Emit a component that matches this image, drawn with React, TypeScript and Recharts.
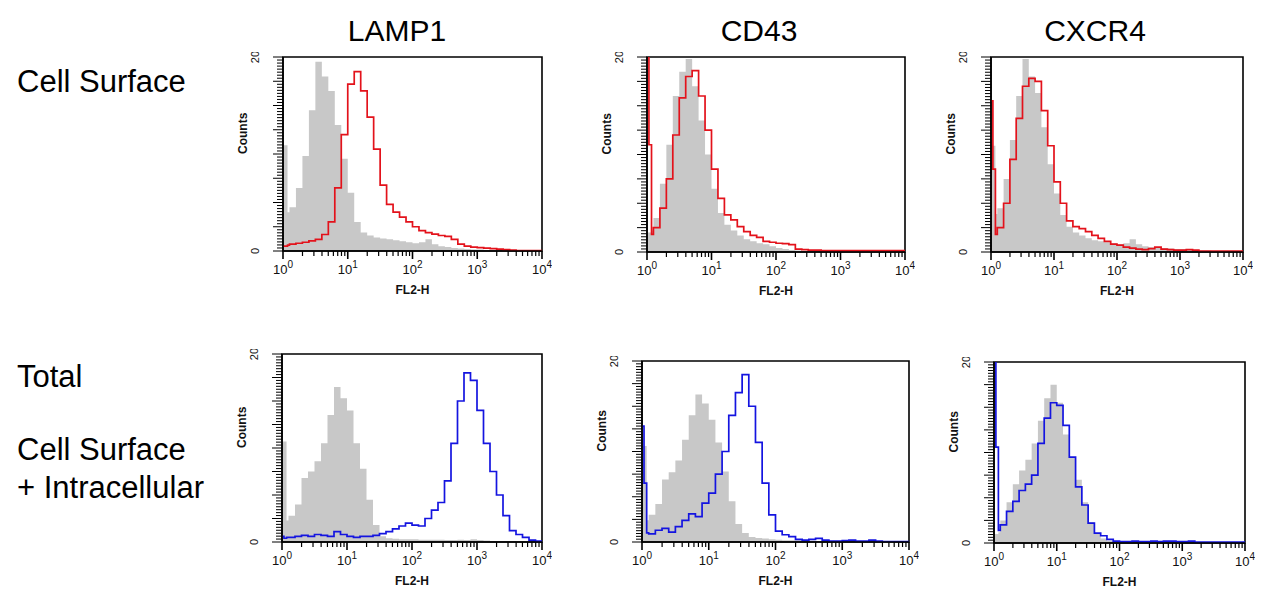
import React from 'react';
import {
  ComposedChart,
  Area,
  Line,
  XAxis,
  YAxis,
  ReferenceArea,
} from 'recharts';

// bin start positions in log10(FL2-H) units (first bins are narrow, channel-0 spike)
const binX = [
  0, 0.03, 0.07,
  0.1, 0.2, 0.3, 0.4, 0.5, 0.6, 0.7, 0.8, 0.9, 1.0,
  1.1, 1.2, 1.3, 1.4, 1.5, 1.6, 1.7, 1.8, 1.9, 2.0,
  2.1, 2.2, 2.3, 2.4, 2.5, 2.6, 2.7, 2.8, 2.9, 3.0,
  3.1, 3.2, 3.3, 3.4, 3.5, 3.6, 3.7, 3.8, 3.9, 4.0,
];

const columns = ['LAMP1', 'CD43', 'CXCR4'];
const decadeLabels = ['0', '1', '2', '3', '4'];
const yTickLabels = ['0', '20'];

// top row: cell surface (isotype grey vs red stain)
const lamp1SurfaceIso = [
  10.9, 10.9, 4.0,
  4.5, 6.5, 9.8, 14.5, 19.5, 18, 16.5, 13, 9.5, 6,
  3, 1.9, 1.6, 1.4, 1.3, 1.2, 1.1, 1.0, 0.9, 0.8,
  0.9, 1.2, 0.7, 0.5, 0.4, 0.3, 0.25, 0.2, 0.15, 0.15,
  0.1, 0.1, 0.1, 0.1, 0.05, 0.05, 0.05, 0.05, 0.05, 0.05,
];
const lamp1Surface = [
  0.5, 0.5, 0.6,
  0.7, 0.8, 0.9, 1.05, 1.2, 1.7, 3, 6.5, 12, 17.2,
  18.5, 16.5, 13.8, 10.5, 6.8, 4.8, 4, 3.5, 3, 2.5,
  2.1, 1.9, 1.75, 1.6, 1.5, 1.2, 0.7, 0.5, 0.4, 0.35,
  0.3, 0.25, 0.2, 0.15, 0.1, 0.05, 0.05, 0.05, 0.05, 0.05,
];
const cd43SurfaceIso = [
  2, 2, 2.2,
  3.5, 7, 11, 16, 18.5, 19.8, 17, 13.5, 10, 6.5,
  4, 2.8, 2.2, 1.7, 1.3, 1.1, 0.9, 0.8, 0.6, 0.4,
  0.3, 0.2, 0.15, 0.1, 0.1, 0.1, 0.1, 0.05, 0.05, 0.05,
  0.05, 0.05, 0.05, 0.05, 0.05, 0.05, 0.05, 0.05, 0.05, 0.05,
];
const cd43Surface = [
  28, 11, 1.8,
  2.5, 4.5, 7.5, 12, 15.8, 18, 18.6, 16, 12.5, 8.5,
  5.5, 3.8, 3.3, 2.6, 2.1, 1.7, 1.5, 1.1, 1, 0.9,
  0.85, 0.75, 0.3, 0.25, 0.2, 0.2, 0.15, 0.15, 0.15, 0.15,
  0.15, 0.15, 0.15, 0.15, 0.15, 0.15, 0.15, 0.15, 0.15, 0.15,
];
const cxcr4SurfaceIso = [
  10.9, 10.9, 3.9,
  4.5, 7.5, 11.5, 16, 19.8, 18, 16.3, 12.8, 9, 6,
  3.8, 2.6, 2, 1.7, 1.4, 1.2, 1.1, 1, 0.9, 0.8,
  0.9, 1.3, 0.8, 0.6, 0.5, 0.45, 0.4, 0.35, 0.3, 0.3,
  0.25, 0.2, 0.15, 0.15, 0.1, 0.1, 0.1, 0.1, 0.1, 0.1,
];
const cxcr4Surface = [
  15.5, 8.5, 1.8,
  2.5, 5, 9.5, 13.7, 17, 17.8, 17.5, 14.5, 10.9, 7.2,
  5, 3.2, 2.6, 2.4, 2.1, 1.7, 1.4, 1.1, 0.8, 0.7,
  0.5, 0.4, 0.3, 0.25, 0.35, 0.5, 0.3, 0.25, 0.2, 0.2,
  0.25, 0.2, 0.1, 0.1, 0.1, 0.1, 0.1, 0.1, 0.1, 0.1,
];

// bottom row: total (permeabilised), grey isotype vs blue stain
const lamp1TotalIso = [
  10.7, 10.7, 2.3,
  2.8, 4, 6.8, 7.5, 8.6, 10.5, 13.5, 16.5, 15.3, 14,
  10.5, 7.8, 4.5, 1.8, 0.6, 0.4, 0.35, 0.3, 0.3, 0.3,
  0.25, 0.25, 0.25, 0.25, 0.2, 0.2, 0.25, 0.2, 0.3, 0.2,
  0.15, 0.1, 0.1, 0.1, 0.1, 0.05, 0.05, 0.05, 0.05, 0.05,
];
const lamp1Total = [
  0.6, 0.4, 0.5,
  0.5, 0.6, 0.7, 0.6, 0.8, 0.7, 0.6, 1.1, 0.8, 0.6,
  0.5, 0.6, 0.6, 0.7, 0.9, 1.1, 1.4, 1.7, 2, 1.8,
  1.7, 2.5, 3.4, 4.2, 6.5, 10.5, 15, 18, 17.2, 14,
  10.5, 7.5, 5, 2.8, 1.2, 0.8, 0.5, 0.2, 0.1, 0.1,
];
const cd43TotalIso = [
  10.6, 10.6, 2.4,
  3, 4.2, 6.9, 7.7, 9, 11.3, 14, 16.3, 15.3, 13.5,
  11, 7.8, 4.5, 2, 1, 0.55, 0.45, 0.4, 0.3, 0.25,
  0.2, 0.2, 0.2, 0.15, 0.15, 0.1, 0.1, 0.1, 0.1, 0.1,
  0.1, 0.05, 0.05, 0.05, 0.05, 0.05, 0.05, 0.05, 0.05, 0.05,
];
const cd43Total = [
  12.8, 6.5, 1,
  0.9, 1.3, 1.5, 1.1, 1.7, 2.4, 3.1, 2.8, 4.3, 5.4,
  7.5, 10, 14, 16.5, 18.5, 15, 11, 6.5, 3, 1.2,
  0.8, 0.6, 0.3, 0.2, 0.3, 0.4, 0.2, 0.1, 0.1, 0.15,
  0.2, 0.1, 0.1, 0.2, 0.1, 0.05, 0.05, 0.05, 0.05, 0.05,
];
const cxcr4TotalIso = [
  1, 1, 1.2,
  2.5, 4.5, 6.5, 8, 9.2, 11, 13.5, 16, 17.5, 15.5,
  12, 9.5, 7, 4.5, 2.3, 1, 0.5, 0.25, 0.15, 0.1,
  0.1, 0.1, 0.1, 0.1, 0.1, 0.1, 0.1, 0.1, 0.1, 0.1,
  0.05, 0.05, 0.05, 0.05, 0.05, 0.05, 0.05, 0.05, 0.05, 0.05,
];
const cxcr4Total = [
  28, 10.6, 1.4,
  2, 3.5, 4.6, 5.8, 6.5, 7.5, 11, 13.8, 15.5, 15.2,
  13, 9.5, 6.2, 4.2, 2.2, 1.1, 0.8, 0.4, 0.2, 0.15,
  0.15, 0.2, 0.15, 0.15, 0.2, 0.15, 0.2, 0.2, 0.15, 0.15,
  0.2, 0.1, 0.1, 0.1, 0.1, 0.1, 0.1, 0.1, 0.1, 0.1,
];

const RED = '#e3121b';
const BLUE = '#1414e0';
const GREY = '#c8c8c8';

// log axis ticks: decades plus 2..9 minors
const xTicks: number[] = [];
for (let d = 0; d < 4; d++) {
  for (let k = 1; k < 10; k++) xTicks.push(d + Math.log10(k));
}
xTicks.push(4);

const yTicks: number[] = [];
for (let i = 0; i <= 64; i++) yTicks.push(i * 0.3125);

const isWhole = (v: number) => Math.abs(v - Math.round(v)) < 1e-6;

const XTick = (props: any) => {
  const { x, y, payload } = props;
  const v = payload.value as number;
  const major = isWhole(v);
  return (
    <g>
      <line x1={x} x2={x} y1={y} y2={y + (major ? 8 : 5)} stroke="#000" strokeWidth={major ? 1.6 : 1.2} />
      {major && (
        <text x={x} y={y + 23} textAnchor="middle" fontSize={13} fill="#111">
          10
          <tspan dy={-6} fontSize={10}>{decadeLabels[Math.round(v)]}</tspan>
        </text>
      )}
    </g>
  );
};

const YTick = (props: any) => {
  const { x, y, payload } = props;
  const v = payload.value as number;
  const major = Math.abs(v / 2.5 - Math.round(v / 2.5)) < 1e-6;
  const label = v === 0 ? yTickLabels[0] : v === 20 ? yTickLabels[1] : null;
  const lx = x - 28;
  return (
    <g>
      <line x1={x - (major ? 10 : 6)} x2={x} y1={y} y2={y} stroke="#000" strokeWidth={1} />
      {label && (
        <text
          x={lx}
          y={y}
          textAnchor="middle"
          dominantBaseline="central"
          fontSize={11}
          fill="#111"
          transform={`rotate(-90 ${lx} ${y})`}
        >
          {label}
        </text>
      )}
    </g>
  );
};

interface PanelProps {
  left: number;
  top: number;
  w: number;
  h: number;
  iso: number[];
  stain: number[];
  color: string;
}

const Panel: React.FC<PanelProps> = ({ left, top, w, h, iso, stain, color }) => {
  const data = binX.map((x, i) => ({ x, iso: iso[i], stain: stain[i] }));
  return (
    <div style={{ position: 'absolute', left: left - 50, top: top - 5 }}>
      <ComposedChart
        width={w + 60}
        height={h + 55}
        data={data}
        margin={{ top: 5, right: 10, bottom: 0, left: 0 }}
      >
        <XAxis
          dataKey="x"
          type="number"
          domain={[0, 4]}
          ticks={xTicks}
          interval={0}
          tick={<XTick />}
          tickLine={false}
          tickSize={0}
          tickMargin={0}
          height={50}
          axisLine={{ stroke: '#000', strokeWidth: 1.6 }}
          label={{ value: 'FL2-H', position: 'insideBottom', offset: 7, fontSize: 12, fill: '#111', fontWeight: 'bold' }}
        />
        <YAxis
          type="number"
          domain={[0, 20]}
          allowDataOverflow
          ticks={yTicks}
          interval={0}
          tick={<YTick />}
          tickLine={false}
          tickSize={0}
          tickMargin={0}
          width={50}
          axisLine={{ stroke: '#000', strokeWidth: 1.6 }}
          label={{ value: 'Counts', angle: -90, position: 'insideLeft', offset: 10, fontSize: 12, fill: '#111', fontWeight: 'bold' }}
        />
        <Area
          type="stepAfter"
          dataKey="iso"
          fill={GREY}
          fillOpacity={1}
          stroke="none"
          isAnimationActive={false}
        />
        <Line
          type="stepAfter"
          dataKey="stain"
          stroke={color}
          strokeWidth={1.7}
          dot={false}
          isAnimationActive={false}
        />
        <ReferenceArea x1={0} x2={4} y1={0} y2={20} fill="none" stroke="#000" strokeWidth={1.6} />
      </ComposedChart>
    </div>
  );
};

const textStyle: React.CSSProperties = {
  position: 'absolute',
  fontSize: 31,
  lineHeight: '31px',
  whiteSpace: 'nowrap',
  color: '#000',
};

const App: React.FC = () => {
  return (
    <div
      style={{
        position: 'absolute',
        left: 0,
        top: 0,
        width: 1262,
        height: 593,
        background: '#fff',
        fontFamily: '"Liberation Sans", Arial, sans-serif',
        overflow: 'hidden',
      }}
    >
      <div style={{ ...textStyle, fontSize: 30, left: 397, top: 15, transform: 'translateX(-50%)' }}>{columns[0]}</div>
      <div style={{ ...textStyle, fontSize: 30, left: 759, top: 15, transform: 'translateX(-50%)' }}>{columns[1]}</div>
      <div style={{ ...textStyle, fontSize: 30, left: 1095, top: 15, transform: 'translateX(-50%)' }}>{columns[2]}</div>

      <div style={{ ...textStyle, left: 17, top: 66 }}>Cell Surface</div>
      <div style={{ ...textStyle, left: 17, top: 361 }}>Total</div>
      <div style={{ ...textStyle, left: 17, top: 434 }}>Cell Surface</div>
      <div style={{ ...textStyle, left: 17, top: 472 }}>+ Intracellular</div>

      <Panel left={283} top={57} w={259} h={194} iso={lamp1SurfaceIso} stain={lamp1Surface} color={RED} />
      <Panel left={647} top={57} w={258} h={195} iso={cd43SurfaceIso} stain={cd43Surface} color={RED} />
      <Panel left={991} top={57} w={252} h={195} iso={cxcr4SurfaceIso} stain={cxcr4Surface} color={RED} />

      <Panel left={282} top={354} w={260} h={188} iso={lamp1TotalIso} stain={lamp1Total} color={BLUE} />
      <Panel left={642} top={361} w={267} h={181} iso={cd43TotalIso} stain={cd43Total} color={BLUE} />
      <Panel left={994} top={362} w={251} h={181} iso={cxcr4TotalIso} stain={cxcr4Total} color={BLUE} />
    </div>
  );
};

export default App;
